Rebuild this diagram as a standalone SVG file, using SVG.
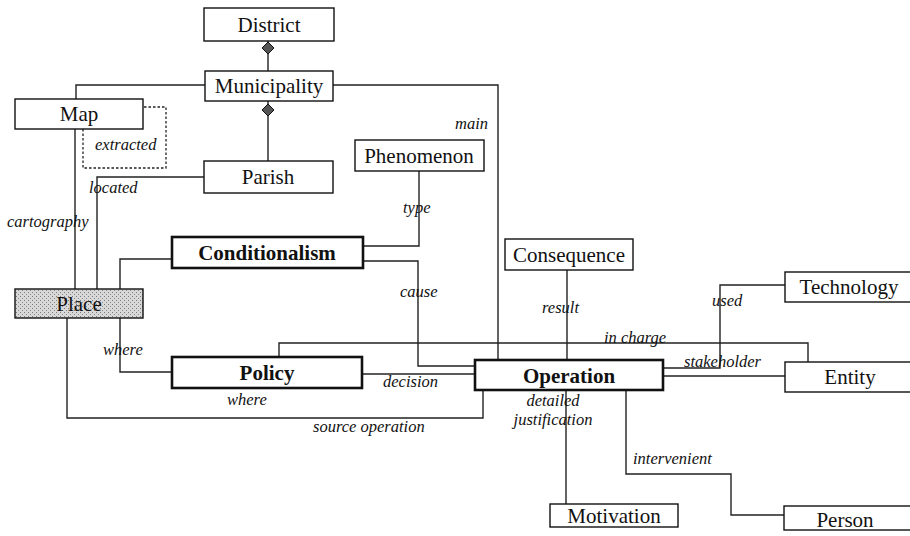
<svg xmlns="http://www.w3.org/2000/svg" width="910" height="536" viewBox="0 0 910 536">
<defs>
<pattern id="stipple" width="4" height="4" patternUnits="userSpaceOnUse">
<rect width="4" height="4" fill="#d8d8d8"/>
<rect x="0" y="0" width="1" height="1" fill="#7a7a7a"/>
<rect x="2" y="2" width="1" height="1" fill="#8a8a8a"/>
</pattern>
<style>
.box{fill:#fff;stroke:#111;stroke-width:1.4}
.bbox{fill:#fff;stroke:#111;stroke-width:2.6}
.dm{fill:#555;stroke:#111;stroke-width:1}
.t{font-family:"Liberation Serif","Times New Roman",serif;font-size:21px;fill:#111;text-anchor:middle}
.tb{font-weight:bold}
.c{fill:none;stroke:#222;stroke-width:1.4}
.d{fill:none;stroke:#222;stroke-width:1.3;stroke-dasharray:2.5,2}
.l{font-family:"Liberation Serif","Times New Roman",serif;font-style:italic;font-size:16.5px;fill:#111}
</style>
</defs>
<rect width="910" height="536" fill="#fff"/>

<g id="connectors">
<path class="c" d="M268,41 V71"/>
<polygon class="dm" points="268,42 274,48 268,54 262,48"/>
<path class="c" d="M268,101 V161"/>
<polygon class="dm" points="268,104 274,110 268,116 262,110"/>
<path class="c" d="M76,99 V85 H205"/>
<path class="c" d="M333,85 H498 V360"/>
<path class="d" d="M83,129 V168 H166 V107 H143"/>
<path class="c" d="M204,177 H97 V289"/>
<path class="c" d="M75,129 V289"/>
<path class="c" d="M120,289 V259 H172"/>
<path class="c" d="M419,171 V246 H363"/>
<path class="c" d="M363,261 H418 V366 H475"/>
<path class="c" d="M567,270 V360"/>
<path class="c" d="M120,318 V372 H172"/>
<path class="c" d="M362,374 H475"/>
<path class="c" d="M279,357 V343 H808 V362"/>
<path class="c" d="M785,285 H720 V368 H663"/>
<path class="c" d="M663,376 H785"/>
<path class="c" d="M67,318 V418 H483 V390"/>
<path class="c" d="M566,390 V504"/>
<path class="c" d="M626,390 V474 H731 V515 H784"/>

<text class="l" x="455" y="129">main</text>
<text class="l" x="95" y="150">extracted</text>
<text class="l" x="89" y="193">located</text>
<text class="l" x="7" y="227">cartography</text>
<text class="l" x="403" y="213">type</text>
<text class="l" x="400" y="297">cause</text>
<text class="l" x="542" y="313">result</text>
<text class="l" x="103" y="355">where</text>
<text class="l" x="227" y="405">where</text>
<text class="l" x="383" y="387">decision</text>
<text class="l" x="313" y="432">source operation</text>
<text class="l" x="604" y="343">in charge</text>
<text class="l" x="684" y="367">stakeholder</text>
<text class="l" x="712" y="306">used</text>
<text class="l" x="553" y="406" text-anchor="middle">detailed</text>
<text class="l" x="553" y="425" text-anchor="middle">justification</text>
<text class="l" x="633" y="464">intervenient</text>
</g>

<g id="district"><rect class="box" x="204" y="8" width="130" height="33"/><text class="t" x="269" y="32">District</text></g>
<g id="municipality"><rect class="box" x="205" y="71" width="128" height="30"/><text class="t" x="269" y="93">Municipality</text></g>
<g id="map"><rect class="box" x="15" y="99" width="128" height="30"/><text class="t" x="79" y="121">Map</text></g>
<g id="parish"><rect class="box" x="204" y="161" width="129" height="32"/><text class="t" x="268" y="184">Parish</text></g>
<g id="phenomenon"><rect class="box" x="355" y="140" width="129" height="31"/><text class="t" x="419" y="163">Phenomenon</text></g>
<g id="conditionalism"><rect class="bbox" x="172" y="237" width="191" height="31"/><text class="t tb" x="267" y="260">Conditionalism</text></g>
<g id="consequence"><rect class="box" x="505" y="239" width="128" height="31"/><text class="t" x="569" y="262">Consequence</text></g>
<g id="place"><rect x="15" y="289" width="128" height="29" fill="url(#stipple)" stroke="#111" stroke-width="1.4"/><text class="t" x="79" y="311">Place</text></g>
<g id="technology"><rect class="box" x="785" y="272" width="128" height="30"/><text class="t" x="849" y="294">Technology</text></g>
<g id="policy"><rect class="bbox" x="172" y="357" width="190" height="31"/><text class="t tb" x="267" y="380">Policy</text></g>
<g id="operation"><rect class="bbox" x="475" y="360" width="188" height="30"/><text class="t tb" x="569" y="383">Operation</text></g>
<g id="entity"><rect class="box" x="785" y="362" width="128" height="30"/><text class="t" x="850" y="384">Entity</text></g>
<g id="motivation"><rect class="box" x="550" y="504" width="128" height="23"/><text class="t" x="614" y="523">Motivation</text></g>
<g id="person"><rect class="box" x="784" y="506" width="128" height="24"/><text class="t" x="845" y="527">Person</text></g>
</svg>
